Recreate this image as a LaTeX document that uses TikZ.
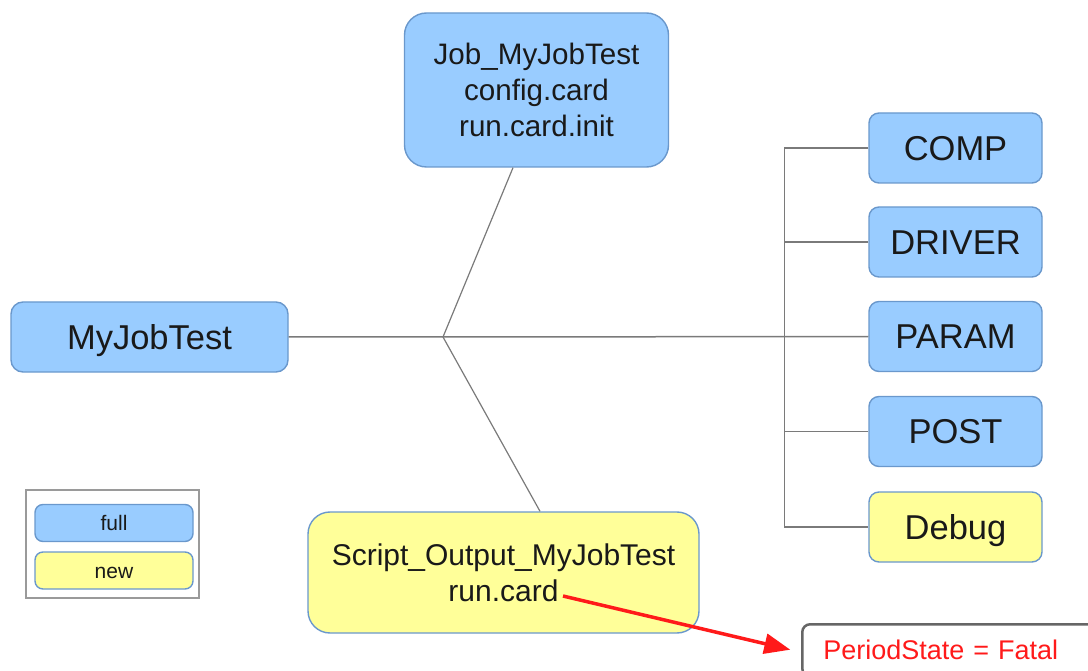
\documentclass[tikz,border=0pt]{standalone}
\usepackage{fontspec}
\setmainfont{Liberation Sans}
\usetikzlibrary{arrows.meta,calc}

\definecolor{fullfill}{HTML}{99CCFF}
\definecolor{newfill}{HTML}{FFFF99}
\definecolor{boxedge}{HTML}{6A98CC}
\definecolor{linkgray}{HTML}{7A7A7A}
\definecolor{legendgray}{HTML}{9A9A9A}
\definecolor{alertred}{HTML}{FF1A1A}

\tikzset{
  card/.style={draw=boxedge, line width=1.4pt, inner sep=0pt, align=center,
    text=black!90},
  fullcard/.style={card, fill=fullfill},
  newcard/.style={card, fill=newfill},
  % single-line labels: centre the capitals on the box
  oneline/.style={text height=#1, text depth=-3pt},
  dircard/.style={fullcard, minimum width=173pt, minimum height=70pt,
    rounded corners=10pt, font=\fontsize{34.5}{38}\selectfont, oneline=24.7pt},
  link/.style={draw=linkgray, line width=1.5pt},
  keycard/.style={minimum width=158pt, minimum height=37pt, rounded corners=8pt,
    font=\fontsize{21}{24}\selectfont, oneline=15pt},
}

\begin{document}
\begin{tikzpicture}[x=1pt, y=-1pt]
\useasboundingbox (0,0) rectangle (1088,671);

% central job and its two files
\node[fullcard, minimum width=264pt, minimum height=154pt, rounded corners=22pt,
  font=\fontsize{29.6}{36}\selectfont] (job) at (536.5,90)
  {Job\_MyJobTest\\config.card\\run.card.init};
\node[fullcard, minimum width=277pt, minimum height=70pt, rounded corners=12pt,
  font=\fontsize{34.5}{38}\selectfont, oneline=24.7pt] (my) at (149.5,337)
  {MyJobTest};
\node[newcard, minimum width=391pt, minimum height=121pt, rounded corners=22pt,
  font=\fontsize{30}{36}\selectfont] (script) at (503.5,572.5)
  {Script\_Output\_MyJobTest\\run.card};

% directories
\node[dircard] (comp)   at (955.5,148)   {COMP};
\node[dircard] (driver) at (955.5,242)   {DRIVER};
\node[dircard] (param)  at (955.5,336.5) {PARAM};
\node[dircard] (post)   at (955.5,431.5) {POST};
\node[dircard, fill=newfill] (debug) at (955.5,527) {Debug};

% branching links
\coordinate (j) at (443,337);
\draw[link] (my.east) -- (j) -- (param.west);
\draw[link, line width=1.2pt] ([xshift=-23.5pt]job.south) -- (j)
  -- ([xshift=36.5pt]script.north);
\draw[link] (comp.west) -- ++(-84,0) |- (debug.west);
\draw[link] (driver.west) -- ++(-84,0);
\draw[link] (post.west) -- ++(-84,0);

% legend
\draw[legendgray, line width=2pt] (26,490) rectangle (199,598);
\node[fullcard, keycard] (kfull) at (114,523) {full};
\node[newcard, keycard] (knew) at (114,570.5) {new};

% run.card state
\node[draw=black!60, line width=2.5pt, rounded corners=8pt, anchor=north west,
  minimum height=52pt, text width=260pt, inner xsep=21pt, inner ysep=0pt,
  align=left, text height=19.3pt, text depth=0pt,
  text=alertred, font=\fontsize{27}{30}\selectfont] (state) at (801,623)
  {PeriodState = Fatal};
\coordinate (rc) at (563,596);
\draw[alertred, line width=3.5pt, shorten >=11pt,
  -{Triangle[length=26pt,width=20pt]}] (rc) -- ([yshift=-2pt]state.west);
\end{tikzpicture}
\end{document}
